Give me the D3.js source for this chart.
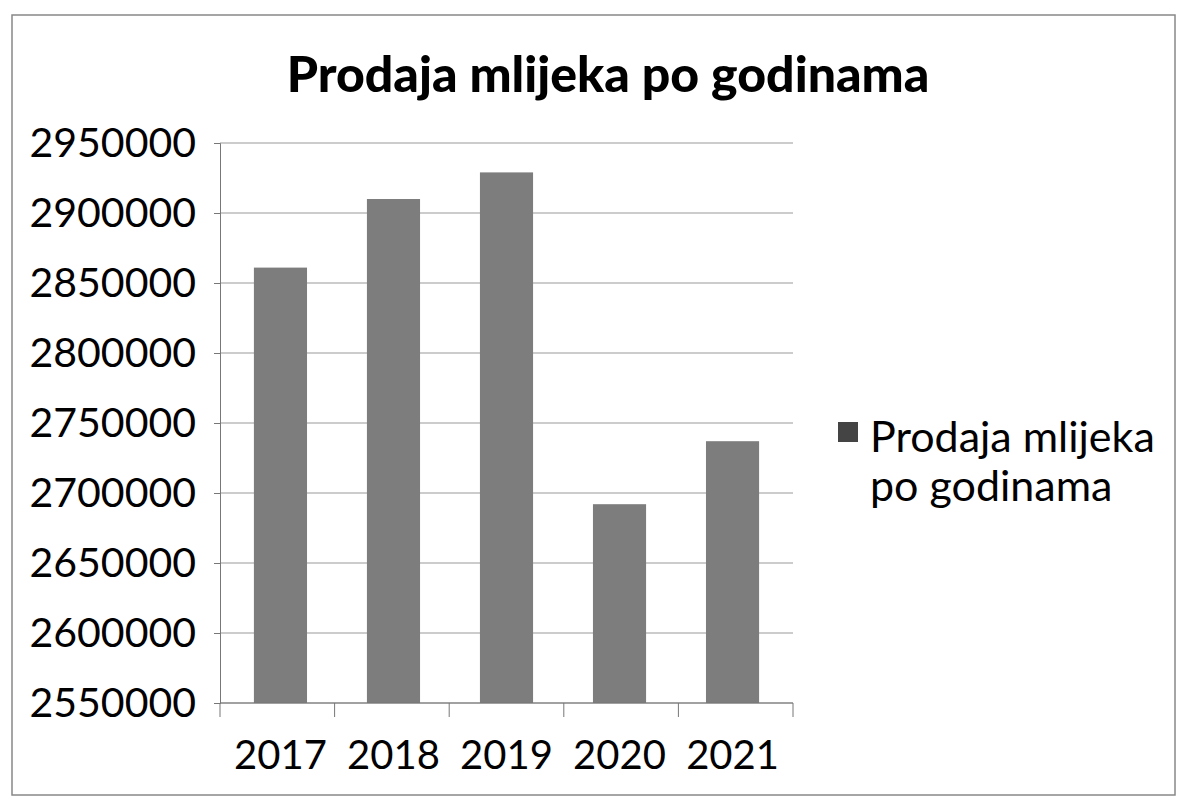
<!DOCTYPE html>
<html><head><meta charset="utf-8">
<script src="https://cdn.jsdelivr.net/npm/d3@7/dist/d3.min.js"></script>
<style>body{margin:0;background:#fff}svg{display:block}</style>
</head><body><svg id="c" width="1185" height="805"></svg>
<script>
const categories = ["2017","2018","2019","2020","2021"];
const values = [2861000, 2910000, 2929000, 2692000, 2737000];
const yTicks = [2550000,2600000,2650000,2700000,2750000,2800000,2850000,2900000,2950000];
const title = "Prodaja mlijeka po godinama";
const legendLines = ["Prodaja mlijeka","po godinama"];

const svg = d3.select("#c");
const font = "Lato, 'Open Sans', sans-serif";
svg.append("rect").attr("x",12).attr("y",15).attr("width",1163).attr("height",780)
  .attr("fill","#fff").attr("stroke","#888").attr("stroke-width",1.5);

const L=220, R=793, T=143, B=703;
const x = d3.scaleBand().domain(categories).range([L,R]).paddingInner(0.53).paddingOuter(0.3);
const y = d3.scaleLinear().domain([2550000,2950000]).range([B,T]);

const g = svg.append("g");
g.selectAll("line.grid").data(yTicks).join("line").attr("class","grid")
  .attr("x1",L).attr("x2",R).attr("y1",d=>y(d)).attr("y2",d=>y(d))
  .attr("stroke","#999").attr("stroke-width",1.2);

g.selectAll("rect.bar").data(values).join("rect").attr("class","bar")
  .attr("x",(d,i)=>x(categories[i])).attr("width",x.bandwidth())
  .attr("y",d=>y(d)).attr("height",d=>B-y(d)).attr("fill","#7d7d7d");

const ya = g.append("g").attr("transform",`translate(${L},0)`)
  .call(d3.axisLeft(y).tickValues(yTicks).tickFormat(d3.format("d")).tickSize(6).tickPadding(18));
ya.select(".domain").attr("stroke","#777");
ya.selectAll("line").attr("stroke","#777");
ya.selectAll("text").attr("font-family",font).attr("font-size",41).attr("fill","#000");

const step = (R-L)/categories.length;
const xa = g.append("g").attr("transform",`translate(0,${B})`)
  .call(d3.axisBottom(x).tickSize(0).tickPadding(38));
xa.select(".domain").attr("stroke","#777").attr("d",`M${L},0H${R}`);
xa.selectAll("text").attr("font-family",font).attr("font-size",40).attr("fill","#000");
g.selectAll("line.xt").data(d3.range(categories.length+1)).join("line").attr("class","xt")
  .attr("x1",i=>L+i*step).attr("x2",i=>L+i*step).attr("y1",B).attr("y2",B+14).attr("stroke","#777");

svg.append("text").attr("x",608).attr("y",92).attr("text-anchor","middle")
  .attr("font-family",font).attr("font-weight","900").attr("font-size",50).attr("fill","#000").text(title);

const lg = svg.append("g");
lg.append("rect").attr("x",838).attr("y",422).attr("width",20).attr("height",20).attr("fill","#444");
lg.selectAll("text").data(legendLines).join("text")
  .attr("x",870).attr("y",(d,i)=>452+i*49).attr("font-family",font).attr("font-size",43).attr("fill","#000").text(d=>d);
</script></body></html>
